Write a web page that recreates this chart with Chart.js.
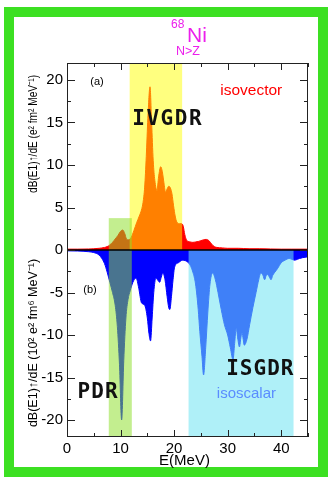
<!DOCTYPE html>
<html><head><meta charset="utf-8">
<script src="https://cdn.jsdelivr.net/npm/chart.js@4/dist/chart.umd.min.js"></script>
<style>
html,body{margin:0;padding:0;background:#fff;width:331px;height:478px;overflow:hidden}
#frame{position:absolute;left:4px;top:7px;width:324px;height:470px;box-sizing:border-box;border:10px solid #3ce022}
#c{position:absolute;left:0;top:0}
</style></head><body>
<div id="frame"></div>
<canvas id="c" width="331" height="478"></canvas>
<script>
// ---- data ----
const energyIV = [0,2,4,5,6,7,7.5,8,8.5,9,9.5,10,10.4,10.8,11.1,11.5,12,12.5,13,13.5,13.9,14.2,14.5,14.8,15.1,15.5,15.8,16.1,16.4,16.8,17.1,17.5,17.8,18.1,18.4,18.7,19,19.3,19.6,19.9,20.2,20.5,21,21.4,21.7,22,22.3,22.6,23,23.5,24,24.5,25,25.5,26,26.5,27,27.5,28,29,30,32,34,36,38,40,42,45];
const isovector = [0.1,0.1,0.12,0.15,0.2,0.3,0.4,0.6,0.9,1.3,1.7,2.2,2.35,1.9,1.3,1.2,1.5,2.3,3.2,4.0,4.7,5.6,7.4,11,15.5,19.2,15,10.5,8.2,7.0,8.6,9.8,9.2,7.9,6.8,7.2,7.5,7.3,6.6,5.2,4.0,3.3,3.1,3.1,2.8,1.8,1.2,1.0,0.95,0.9,0.95,1.0,1.1,1.2,1.25,1.1,0.7,0.4,0.3,0.25,0.2,0.2,0.15,0.15,0.12,0.1,0.1,0.1];
const energyIS = [0,2,4,5,6,6.5,7,7.5,8,8.5,9,9.4,9.8,10.2,10.6,11,11.4,11.8,12.3,12.9,13.4,13.9,14.5,15,15.3,15.6,15.9,16.2,16.6,17,17.3,17.6,17.9,18.3,18.7,19,19.2,19.5,19.8,20.1,20.8,21.6,22.5,23,23.5,24,24.5,24.8,25.2,25.5,25.9,26.3,26.7,27.2,27.7,28.2,28.8,29.4,30,30.5,31,31.3,31.6,31.9,32.2,32.5,32.7,32.9,33.1,33.6,34.1,34.7,35.3,35.8,36.2,36.6,36.9,37.2,37.5,37.8,38.1,38.4,38.7,39.3,40,40.7,41.5,42,42.5,43,43.4,44,45];
const isoscalar = [-0.1,-0.12,-0.2,-0.3,-0.6,-1.0,-1.6,-2.6,-3.8,-5.0,-6.5,-9,-13.5,-20,-13,-8,-5.8,-4.8,-3.8,-3.3,-4.5,-6.2,-6.5,-8.0,-9.8,-10.7,-8,-5,-3.3,-3.6,-3.8,-3.2,-2.7,-3.5,-5.5,-6.8,-7.0,-5.5,-3.5,-2.0,-1.5,-1.2,-1.4,-1.8,-2.6,-4.0,-7.0,-9.6,-12.5,-14.7,-11.5,-7.3,-4.0,-2.7,-3.5,-5.0,-7.0,-8.8,-10.0,-11.5,-12.9,-11.0,-9.2,-10.5,-11.4,-10.2,-9.8,-10.5,-11.2,-10.5,-8.8,-6.8,-5.0,-3.5,-2.7,-3.0,-3.5,-3.0,-2.9,-3.2,-3.5,-3.0,-2.7,-2.2,-1.5,-1.2,-1.0,-1.1,-1.2,-1.1,-1.0,-0.9,-0.8];
const xRange = [0, 45];
const yRange = [-22, 22];
// shaded resonance regions: [from E, to E, low, high]
const bandNames = ['IVGDR', 'PDR', 'ISGDR'];
const bandFrom  = [11.7, 7.8, 22.7];
const bandTo    = [21.5, 12.1, 42.3];
const bandLow   = [0, -22, -22];
const bandHigh  = [22, 3.75, 0];

const SANS = '"Liberation Sans", Arial, sans-serif';
const HAND = '"DejaVu Sans Mono", monospace';
const bandColors = ['rgba(255,255,0,0.5)', 'rgba(140,222,40,0.52)', 'rgba(112,228,243,0.56)'];

const overlay = {
  id: 'overlay',
  afterDatasetsDraw(chart) {
    const {ctx, chartArea: a, scales: {x, y}} = chart;
    ctx.save();
    ctx.beginPath(); ctx.rect(a.left, a.top, a.right - a.left, a.bottom - a.top); ctx.clip();
    for (let i = 0; i < bandFrom.length; i++) {
      const x0 = x.getPixelForValue(bandFrom[i]), x1 = x.getPixelForValue(bandTo[i]);
      const y0 = y.getPixelForValue(bandHigh[i]), y1 = y.getPixelForValue(bandLow[i]);
      ctx.fillStyle = bandColors[i];
      ctx.fillRect(x0, y0, x1 - x0, y1 - y0);
    }
    // zero line
    const y0 = y.getPixelForValue(0);
    ctx.strokeStyle = '#000'; ctx.lineWidth = 1.6;
    ctx.beginPath(); ctx.moveTo(a.left, y0); ctx.lineTo(a.right, y0); ctx.stroke();
    ctx.restore();

    ctx.save();
    // frame
    ctx.strokeStyle = '#222'; ctx.lineWidth = 1;
    ctx.strokeRect(a.left + 0.5, a.top + 0.5, a.right - a.left - 1, a.bottom - a.top - 1);
    // inward ticks
    ctx.beginPath();
    y.ticks.forEach(t => {
      const p = Math.round(y.getPixelForValue(t.value)) + 0.5;
      const len = (t.value % 5 === 0) ? 8 : 4;
      ctx.moveTo(a.left, p); ctx.lineTo(a.left + len, p);
      ctx.moveTo(a.right, p); ctx.lineTo(a.right - len, p);
    });
    x.ticks.forEach(t => {
      const p = Math.round(x.getPixelForValue(t.value)) + 0.5;
      const len = (t.value % 10 === 0) ? 7 : 4;
      ctx.moveTo(p, a.bottom); ctx.lineTo(p, a.bottom - len);
      ctx.moveTo(p, a.top); ctx.lineTo(p, a.top + len);
    });
    ctx.stroke();

    // annotations
    ctx.textAlign = 'center'; ctx.textBaseline = 'middle';
    const put = (txt, ex, ev, font, color, ls) => {
      ctx.font = font; ctx.fillStyle = color;
      ctx.letterSpacing = ls || '0px';
      ctx.fillText(txt, x.getPixelForValue(ex), y.getPixelForValue(ev));
    };
    put('(a)', 5.6, 19.8, '11px ' + SANS, '#000');
    put('(b)', 4.3, -4.65, '11px ' + SANS, '#000');
    put('isovector', 34.4, 18.75, '15.5px ' + SANS, '#ff0000');
    put('isoscalar', 33.5, -16.9, '15px ' + SANS, '#5a8cff');
    put('IVGDR', 18.8, 15.35, 'bold 21px ' + HAND, '#111', '1.5px');
    put('ISGDR', 36.1, -14.1, 'bold 21px ' + HAND, '#111', '1px');
    put('PDR', 5.8, -16.8, 'bold 21px ' + HAND, '#111', '1px');
    ctx.letterSpacing = '0px';

    // axis titles
    ctx.fillStyle = '#000';
    ctx.font = '15px ' + SANS;
    ctx.fillText('E(MeV)', (a.left + a.right) / 2 - 3, 461);
    ctx.font = '12.5px ' + SANS;
    ctx.save(); ctx.translate(34, 134); ctx.rotate(-Math.PI / 2);
    ctx.fillText('dB(E1)\u2191/dE (e\u00b2 fm\u00b2 MeV\u207b\u00b9)', 0, 0, 118);
    ctx.restore();
    ctx.save(); ctx.translate(34, 343); ctx.rotate(-Math.PI / 2);
    ctx.fillText('dB(E1)\u2191/dE (10\u00b2 e\u00b2 fm\u2076 MeV\u207b\u00b9)', 0, 0, 172);
    ctx.restore();

    // title
    ctx.fillStyle = '#ec1fec';
    ctx.textAlign = 'left'; ctx.textBaseline = 'alphabetic';
    ctx.font = '21px ' + SANS; ctx.fillText('Ni', 187, 42);
    ctx.font = '12px ' + SANS; ctx.fillText('68', 171, 28);
    ctx.font = '12.5px ' + SANS; ctx.fillText('N>Z', 176, 55);
    ctx.restore();
  }
};

new Chart(document.getElementById('c'), {
  type: 'line',
  data: {
    datasets: [
      { label: 'isovector', data: energyIV.map((e, i) => ({x: e, y: isovector[i]})),
        borderColor: '#ff0000', backgroundColor: '#ff0000', borderWidth: 1, fill: 'origin',
        pointRadius: 0, cubicInterpolationMode: 'monotone' },
      { label: 'isoscalar', data: energyIS.map((e, i) => ({x: e, y: isoscalar[i]})),
        borderColor: '#0000ff', backgroundColor: '#0000ff', borderWidth: 1, fill: 'origin',
        pointRadius: 0, cubicInterpolationMode: 'monotone' }
    ]
  },
  options: {
    responsive: false, animation: false, devicePixelRatio: 1,
    layout: { padding: { left: 0, top: 63, right: 23, bottom: 0 } },
    plugins: { legend: { display: false }, tooltip: { enabled: false }, title: { display: false } },
    scales: {
      x: { type: 'linear', min: xRange[0], max: xRange[1],
           afterFit(s) { s.height = 41; },
           grid: { display: false, drawTicks: false }, border: { display: false },
           ticks: { stepSize: 5, autoSkip: false, maxRotation: 0, padding: 3, color: '#000',
                    font: { family: SANS, size: 15 },
                    callback: v => (v % 10 === 0 ? String(v) : '') } },
      y: { min: yRange[0], max: yRange[1],
           afterFit(s) { s.width = 67; },
           grid: { display: false, drawTicks: false }, border: { display: false },
           ticks: { stepSize: 2.5, includeBounds: false, autoSkip: false, padding: 4, color: '#000',
                    font: { family: SANS, size: 15 },
                    callback: v => (v % 5 === 0 ? String(v) : '') } }
    }
  },
  plugins: [overlay]
});
</script>
</body></html>
